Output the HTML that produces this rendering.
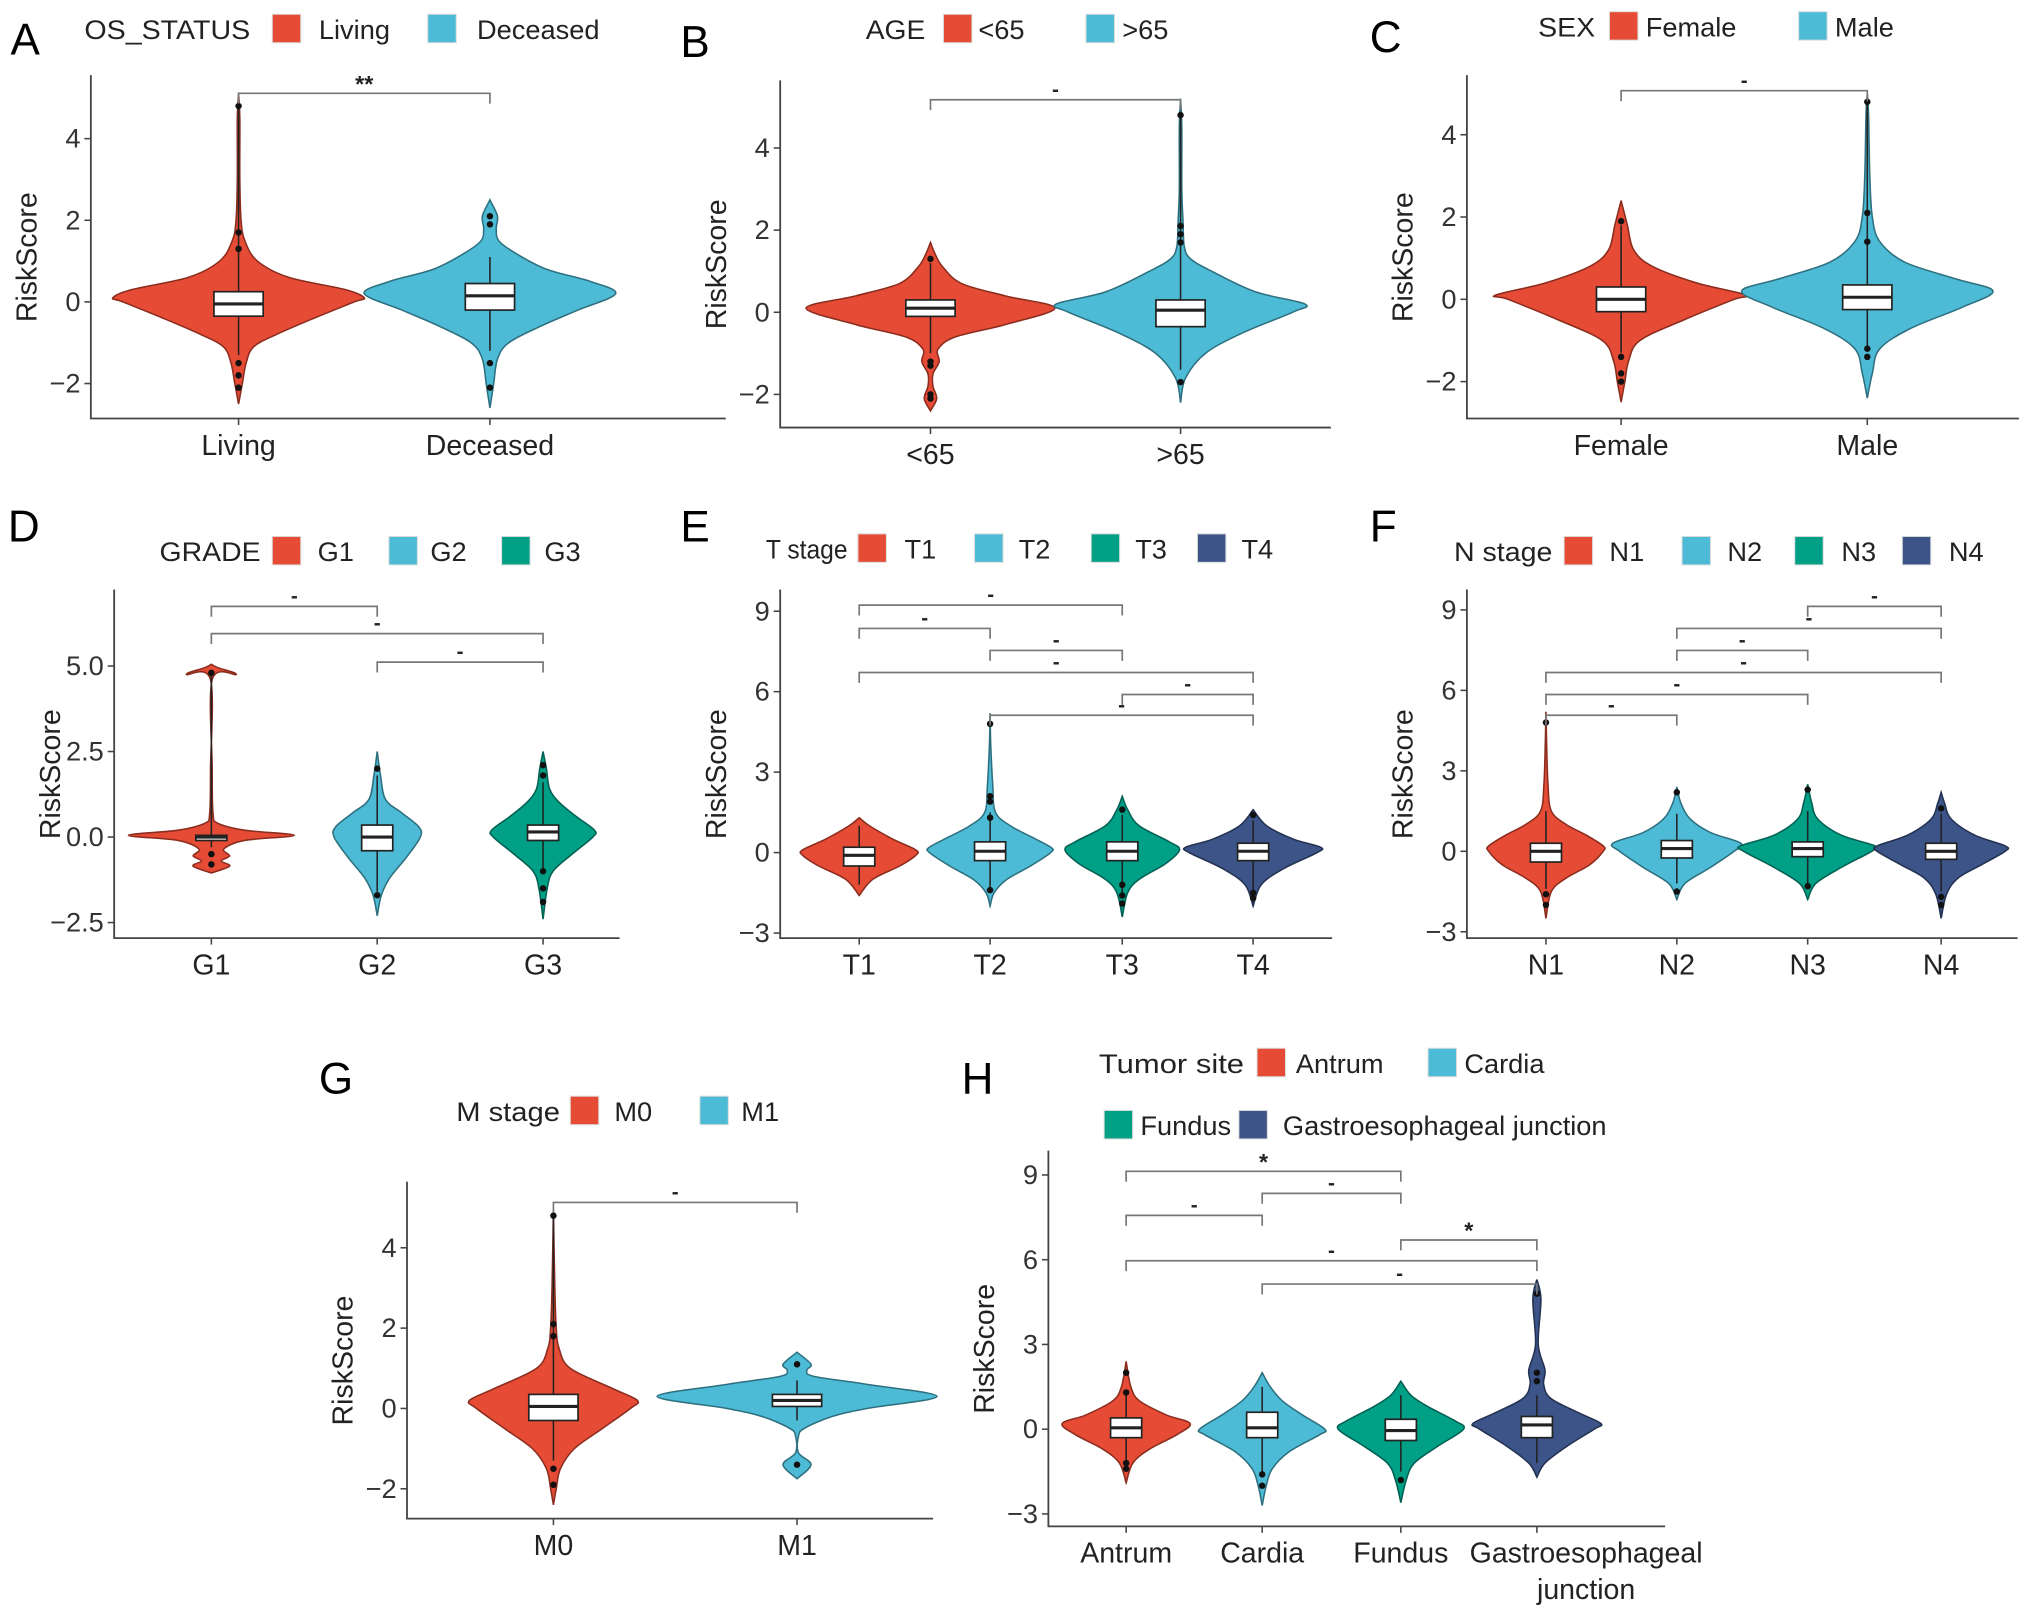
<!DOCTYPE html>
<html><head><meta charset="utf-8"><style>
html,body{margin:0;padding:0;background:#fff;}
svg{display:block;font-family:"Liberation Sans",sans-serif;}
</style></head><body>
<svg id="fig" width="2032" height="1608" viewBox="0 0 1568 1241" xmlns="http://www.w3.org/2000/svg"></svg>
<script>
// ---------- DATA ----------
const aCats=["Living","Deceased"];
const aMed=[-0.05,0.15];const aQ1=[-0.35,-0.2];const aQ3=[0.25,0.45];const aLo=[-1.3,-1.2];const aHi=[4.8,1.1];
const aOut=[[4.8,1.7,1.3,-1.5,-1.8,-2.1],[2.1,1.9,-1.5,-2.1]];
const aViol=[[[-2.5,0],[-2,0.03],[-1.5,0.06],[-1.1,0.12],[-0.8,0.3],[-0.4,0.6],[0,0.92],[0.1,1],[0.3,0.85],[0.6,0.4],[1,0.15],[1.5,0.05],[2,0.02],[3,0.01],[4.5,0.01],[5.1,0]],
[[-2.6,0],[-2,0.03],[-1.4,0.06],[-1,0.15],[-0.6,0.4],[-0.2,0.7],[0.2,1],[0.5,0.8],[0.8,0.45],[1.2,0.2],[1.5,0.07],[1.8,0.05],[2.1,0.06],[2.5,0]]];
const bCats=["<65",">65"];
const bMed=[0.1,0.05];const bQ1=[-0.1,-0.35];const bQ3=[0.3,0.3];const bLo=[-1,-1.4];const bHi=[1.2,4.8];
const bOut=[[1.3,-1.2,-1.3,-2,-2.1],[4.8,2.1,1.9,1.7,-1.7]];
const bViol=[[[-2.4,0],[-2.1,0.05],[-1.8,0.02],[-1.5,0.02],[-1.2,0.07],[-0.9,0.06],[-0.6,0.2],[-0.3,0.6],[0.1,1],[0.4,0.6],[0.7,0.25],[1.1,0.1],[1.4,0.04],[1.7,0]],
[[-2.2,0],[-1.6,0.04],[-1,0.2],[-0.5,0.5],[0,0.9],[0.2,1],[0.5,0.6],[1,0.25],[1.3,0.08],[1.6,0.03],[2.2,0.02],[3,0.01],[4.5,0.01],[5.2,0]]];
const cCats=["Female","Male"];
const cMed=[0,0.05];const cQ1=[-0.3,-0.25];const cQ3=[0.3,0.35];const cLo=[-1.3,-1.2];const cHi=[1.8,4.8];
const cOut=[[1.9,-1.4,-1.8,-2],[4.8,2.1,1.4,-1.2,-1.4]];
const cViol=[[[-2.5,0],[-2,0.03],[-1.5,0.06],[-1,0.15],[-0.5,0.5],[0,0.9],[0.1,1],[0.4,0.6],[0.8,0.25],[1.2,0.1],[1.8,0.05],[2.4,0]],
[[-2.4,0],[-1.8,0.04],[-1.2,0.1],[-0.7,0.35],[-0.2,0.75],[0.2,1],[0.5,0.7],[0.9,0.3],[1.4,0.1],[2,0.04],[3,0.02],[4.5,0.01],[5,0]]];
const dCats=["G1","G2","G3"];
const dMed=[0,0,0.15];const dQ1=[-0.1,-0.4,-0.1];const dQ3=[0.05,0.35,0.35];const dLo=[-0.3,-1.6,-1];const dHi=[4.8,1.8,1.6];
const dOut=[[4.8,-0.5,-0.8],[2,-1.7],[2.1,1.8,-1,-1.5,-1.9]];
const dViol=[[[-1.05,0],[-0.85,0.22],[-0.7,0.12],[-0.55,0.22],[-0.35,0.15],[-0.1,0.4],[0.05,1],[0.2,0.4],[0.4,0.08],[0.7,0.02],[2,0.01],[4.6,0.01],[4.75,0.3],[4.95,0.08],[5.05,0]],
[[-2.3,0],[-1.7,0.05],[-1.2,0.15],[-0.6,0.35],[0,0.52],[0.3,0.5],[0.7,0.3],[1.1,0.1],[1.8,0.04],[2.5,0]],
[[-2.4,0],[-1.5,0.05],[-1,0.12],[-0.5,0.35],[0,0.6],[0.2,0.62],[0.6,0.4],[1,0.2],[1.4,0.08],[2,0.04],[2.5,0]]];
const eCats=["T1","T2","T3","T4"];
const eMed=[-0.1,0.05,0.05,0.05];const eQ1=[-0.5,-0.3,-0.3,-0.3];const eQ3=[0.2,0.4,0.4,0.35];const eLo=[-1.2,-1.4,-1.6,-1.5];const eHi=[1,1.5,1.4,1.2];
const eOut=[[],[4.8,2.1,1.9,1.3,-1.4],[1.6,-1.2,-1.6,-1.9],[1.4,-1.5,-1.7]];
const eViol=[[[-1.6,0],[-1,0.2],[-0.5,0.6],[-0.1,0.84],[0.1,0.84],[0.5,0.5],[1,0.15],[1.3,0]],
[[-2,0],[-1.5,0.06],[-1,0.25],[-0.5,0.6],[0,0.9],[0.2,0.9],[0.6,0.6],[1,0.3],[1.5,0.08],[2.5,0.04],[4,0.01],[5.2,0]],
[[-2.4,0],[-1.5,0.08],[-1,0.25],[-0.4,0.65],[0.1,0.85],[0.4,0.7],[1,0.25],[1.6,0.08],[2.1,0]],
[[-2,0],[-1.2,0.12],[-0.6,0.45],[0,0.95],[0.2,1],[0.5,0.6],[1,0.2],[1.6,0]]];
const fCats=["N1","N2","N3","N4"];
const fMed=[0,0.1,0.1,0];const fQ1=[-0.4,-0.25,-0.2,-0.3];const fQ3=[0.3,0.4,0.35,0.3];const fLo=[-1.4,-1.2,-1.2,-1.5];const fHi=[1.5,1.4,1.5,1.4];
const fOut=[[4.8,-1.6,-2],[2.2,-1.5],[2.3,-1.3],[1.6,-1.7,-2]];
const fViol=[[[-2.5,0],[-1.5,0.08],[-1,0.3],[-0.5,0.65],[0,0.85],[0.2,0.85],[0.6,0.6],[1,0.3],[1.5,0.08],[2.5,0.03],[4,0.01],[5.2,0]],
[[-1.8,0],[-1.2,0.12],[-0.6,0.5],[0,0.85],[0.3,0.95],[0.7,0.5],[1.2,0.2],[1.8,0.06],[2.4,0]],
[[-1.8,0],[-1.2,0.12],[-0.6,0.5],[0,0.95],[0.2,1],[0.6,0.5],[1.2,0.15],[1.8,0.06],[2.5,0]],
[[-2.5,0],[-1.6,0.08],[-1,0.25],[-0.5,0.6],[0,0.95],[0.2,0.95],[0.6,0.5],[1.2,0.15],[1.8,0.05],[2.2,0]]];
const gCats=["M0","M1"];
const gMed=[0.05,0.2];const gQ1=[-0.3,0.05];const gQ3=[0.35,0.35];const gLo=[-1.3,-0.3];const gHi=[4.8,0.7];
const gOut=[[4.8,2.1,1.8,-1.5,-1.9],[1.1,-1.4]];
const gViol=[[[-2.4,0],[-2,0.02],[-1.5,0.05],[-1,0.15],[-0.5,0.35],[0,0.55],[0.2,0.6],[0.5,0.42],[1,0.12],[1.5,0.04],[2,0.02],[3,0.01],[4.9,0]],
[[-1.75,0],[-1.4,0.1],[-1.1,0.01],[-0.7,0.01],[-0.5,0.05],[-0.2,0.25],[0,0.5],[0.3,1],[0.6,0.5],[0.8,0.12],[0.95,0.07],[1.1,0.1],[1.4,0]]];
const hCats=["Antrum","Cardia","Fundus","Gastroesophageal|junction"];
const hMed=[0.05,0.05,-0.05,0.15];const hQ1=[-0.3,-0.3,-0.4,-0.3];const hQ3=[0.4,0.6,0.35,0.45];const hLo=[-1.2,-1.5,-1.5,-1.2];const hHi=[1.3,1.5,1.2,1.2];
const hOut=[[2,1.3,-1.2,-1.4],[-1.6,-2],[-1.8],[4.8,2,1.7]];
const hViol=[[[-1.9,0],[-1.2,0.1],[-0.7,0.35],[-0.2,0.75],[0.2,0.95],[0.5,0.6],[1,0.2],[1.5,0.07],[2.4,0]],
[[-2.7,0],[-2,0.06],[-1.4,0.15],[-0.8,0.4],[-0.2,0.85],[0,0.93],[0.5,0.6],[1,0.3],[1.5,0.12],[2,0]],
[[-2.6,0],[-1.8,0.08],[-1.2,0.2],[-0.6,0.55],[0,0.93],[0.3,0.8],[0.8,0.4],[1.2,0.15],[1.7,0]],
[[-1.7,0],[-1.2,0.12],[-0.6,0.45],[0,0.85],[0.2,0.95],[0.6,0.6],[1.1,0.2],[1.6,0.1],[2.1,0.12],[3,0.02],[4.6,0.06],[5.3,0]]];

// ---------- LAYOUT ----------
const RED="#E64B35",BLUE="#4DBBD5",GREEN="#00A087",NAVY="#3C5488";
const panels=[
 {id:"a",letter:"A",lx:8,ly:42,x0:70,x1:560,yb:323,yt:58,v0:0,py0:233,pyPer:31.5,ticks:[-2,0,2,4],tfmt:v=>v,cx:[184,378],cats:aCats,med:aMed,q1:aQ1,q3:aQ3,lo:aLo,hi:aHi,out:aOut,viol:aViol,vw:97,bw:19,cols:[RED,BLUE],
  legTitle:"OS_STATUS",legTW:128,legT:65,legY:22,leg:[[210,246],[330,368]],br:[[0,1,72,"**"]]},
 {id:"b",letter:"B",lx:525,ly:44,x0:602,x1:1027,yb:330,yt:62,v0:0,py0:241,pyPer:31.7,ticks:[-2,0,2,4],tfmt:v=>v,cx:[718,911],cats:bCats,med:bMed,q1:bQ1,q3:bQ3,lo:bLo,hi:bHi,out:bOut,viol:bViol,vw:96,bw:19,cols:[RED,BLUE],
  legTitle:"AGE",legTW:46,legT:668,legY:22,leg:[[728,755],[838,866]],br:[[0,1,77,"-"]]},
 {id:"c",letter:"C",lx:1057,ly:40,x0:1132,x1:1558,yb:323,yt:58,v0:0,py0:231,pyPer:31.75,ticks:[-2,0,2,4],tfmt:v=>v,cx:[1251,1441],cats:cCats,med:cMed,q1:cQ1,q3:cQ3,lo:cLo,hi:cHi,out:cOut,viol:cViol,vw:97,bw:19,cols:[RED,BLUE],
  legTitle:"SEX",legTW:44,legT:1187,legY:20,leg:[[1242,1270],[1388,1416]],br:[[0,1,70,"-"]]},
 {id:"d",letter:"D",lx:6,ly:418,x0:88,x1:478,yb:724,yt:455,v0:0,py0:646,pyPer:26.4,ticks:[-2.5,0,2.5,5],tfmt:v=>v.toFixed(1),cx:[163,291,419],cats:dCats,med:dMed,q1:dQ1,q3:dQ3,lo:dLo,hi:dHi,out:dOut,viol:dViol,vw:64,bw:12,cols:[RED,BLUE,GREEN],
  legTitle:"GRADE",legTW:78,legT:123,legY:425,leg:[[210,245],[300,332],[387,420]],br:[[0,1,468,"-"],[0,2,489,"-"],[1,2,511,"-"]]},
 {id:"e",letter:"E",lx:525,ly:418,x0:602,x1:1028,yb:724,yt:455,v0:0,py0:658,pyPer:20.7,ticks:[-3,0,3,6,9],tfmt:v=>v,cx:[663,764,866,967],cats:eCats,med:eMed,q1:eQ1,q3:eQ3,lo:eLo,hi:eHi,out:eOut,viol:eViol,vw:52,bw:12,cols:[RED,BLUE,GREEN,NAVY],
  legTitle:"T stage",legTW:63,legT:591,legY:423,leg:[[662,698],[752,786],[842,876],[924,958]],br:[[0,2,467,"-"],[0,1,485,"-"],[1,2,502,"-"],[0,3,519,"-"],[2,3,536,"-"],[1,3,552,"-"]]},
 {id:"f",letter:"F",lx:1057,ly:418,x0:1132,x1:1557,yb:724,yt:455,v0:0,py0:657,pyPer:20.7,ticks:[-3,0,3,6,9],tfmt:v=>v,cx:[1193,1294,1395,1498],cats:fCats,med:fMed,q1:fQ1,q3:fQ3,lo:fLo,hi:fHi,out:fOut,viol:fViol,vw:52,bw:12,cols:[RED,BLUE,GREEN,NAVY],
  legTitle:"N stage",legTW:76,legT:1122,legY:425,leg:[[1207,1242],[1298,1333],[1385,1421],[1468,1504]],br:[[2,3,468,"-"],[1,3,485,"-"],[1,2,502,"-"],[0,3,519,"-"],[0,2,536,"-"],[0,1,552,"-"]]},
 {id:"g",letter:"G",lx:246,ly:844,x0:314,x1:720,yb:1172,yt:912,v0:0,py0:1087,pyPer:31,ticks:[-2,0,2,4],tfmt:v=>v,cx:[427,615],cats:gCats,med:gMed,q1:gQ1,q3:gQ3,lo:gLo,hi:gHi,out:gOut,viol:gViol,vw:108,bw:19,cols:[RED,BLUE],
  legTitle:"M stage",legTW:80,legT:352,legY:857,leg:[[440,474],[540,572]],br:[[0,1,928,"-"]]},
 {id:"h",letter:"H",lx:742,ly:844,x0:809,x1:1285,yb:1178,yt:888,v0:0,py0:1103,pyPer:21.8,ticks:[-3,0,3,6,9],tfmt:v=>v,cx:[869,974,1081,1186],cats:hCats,med:hMed,q1:hQ1,q3:hQ3,lo:hLo,hi:hHi,out:hOut,viol:hViol,vw:52,bw:12,cols:[RED,BLUE,GREEN,NAVY],
  legTitle:"Tumor site",legTW:112,legT:848,legY:820,leg:[[970,1000],[1102,1130],[852,880,868],[956,990,868]],br:[[0,2,904,"*"],[1,2,921,"-"],[0,1,938,"-"],[2,3,957,"*"],[0,3,973,"-"],[1,3,991,"-"]]}
];
const NS="http://www.w3.org/2000/svg";
const svg=document.getElementById("fig");
function mk(tag,attrs,parent){const e=document.createElementNS(NS,tag);for(const k in attrs)e.setAttribute(k,attrs[k]);parent.appendChild(e);return e;}
function dark(c){const n=parseInt(c.slice(1),16);const r=(n>>16)*0.6|0,g=((n>>8)&255)*0.6|0,b=(n&255)*0.6|0;return `rgb(${r},${g},${b})`;}
function smooth(pts){let d=`M${pts[0][0]},${pts[0][1]}`;for(let i=0;i<pts.length-1;i++){const p0=pts[Math.max(0,i-1)],p1=pts[i],p2=pts[i+1],p3=pts[Math.min(pts.length-1,i+2)];
 d+=` C${p1[0]+(p2[0]-p0[0])/6},${p1[1]+(p2[1]-p0[1])/6} ${p2[0]-(p3[0]-p1[0])/6},${p2[1]-(p3[1]-p1[1])/6} ${p2[0]},${p2[1]}`;}return d;}
const bg=mk("rect",{x:0,y:0,width:1568,height:1241,fill:"#fff"},svg);



panels.forEach(P=>{
 const g=mk("g",{},svg);
 
 
 const Y=v=>P.py0-(v-P.v0)*P.pyPer;
 const lt=mk("text",{x:P.lx,y:P.ly,"font-size":34,fill:"#000"},g);lt.textContent=P.letter;
 
 
 const lgt=mk("text",{x:P.legT,y:P.legY+8,"font-size":21,fill:"#222",textLength:P.legTW,lengthAdjust:"spacingAndGlyphs"},g);lgt.textContent=P.legTitle;
 
 
 P.leg.forEach((L,i)=>{const ly=L[2]||P.legY;
  const sw=mk("rect",{x:L[0],y:ly-11,width:22,height:22,fill:P.cols[i],stroke:"#ddd","stroke-width":0.8},g);
  
  
  const tx=mk("text",{x:L[1],y:ly+8,"font-size":21,fill:"#222"},g);tx.textContent=P.cats[i].replace("|"," ");
  
  });
 const ax=mk("path",{d:`M${P.x0},${P.yt} L${P.x0},${P.yb} L${P.x1},${P.yb}`,fill:"none",stroke:"#444","stroke-width":1.4},g);
 
 
 P.ticks.forEach(t=>{const y=Y(t);
  const tk=mk("line",{x1:P.x0-5,x2:P.x0,y1:y,y2:y,stroke:"#444","stroke-width":1.2},g);
  
  
  const tl=mk("text",{x:P.x0-8,y:y+7,"font-size":21,"text-anchor":"end",fill:"#333"},g);tl.textContent=String(P.tfmt(t)).replace("-","\u2212");
  
  });
 const yt=mk("text",{x:0,y:0,"font-size":22,"text-anchor":"middle",fill:"#222",transform:`translate(${P.x0-42},${(P.yt+P.yb)/2+8}) rotate(-90)`},g);yt.textContent="RiskScore";
 
 
 P.cats.forEach((c,i)=>{const x=P.cx[i];
  const tk=mk("line",{x1:x,x2:x,y1:P.yb,y2:P.yb+5,stroke:"#444","stroke-width":1.2},g);
  
  
  const parts=c.split("|");
  const off=parts.length>1?38:0;
  parts.forEach((p,j)=>{const tl=mk("text",{x:x+off,y:P.yb+28+j*28,"font-size":22,"text-anchor":"middle",fill:"#222"},g);tl.textContent=p;
   
   });
  const k=P.viol[i];
  const right=k.map(q=>[x+q[1]*P.vw,Y(q[0])]);
  const left=k.slice().reverse().map(q=>[x-q[1]*P.vw,Y(q[0])]);
  const d=smooth(right)+" "+smooth(left).replace(/^M/,"L")+" Z";
  const vp=mk("path",{d:d,fill:P.cols[i],stroke:dark(P.cols[i]),"stroke-width":1.2},g);
  
  
  const wl=mk("line",{x1:x,x2:x,y1:Y(P.lo[i]),y2:Y(P.hi[i]),stroke:"#222","stroke-width":1.2},g);
  
  
  const bx=mk("rect",{x:x-P.bw,y:Y(P.q3[i]),width:2*P.bw,height:Y(P.q1[i])-Y(P.q3[i]),fill:"#fff",stroke:"#222","stroke-width":1.3},g);
  
  
  const md=mk("line",{x1:x-P.bw,x2:x+P.bw,y1:Y(P.med[i]),y2:Y(P.med[i]),stroke:"#222","stroke-width":2.4},g);
  
  
  P.out[i].forEach(o=>{const ci=mk("circle",{cx:x,cy:Y(o),r:2.5,fill:"#111"},g);
   
   });
 });
 P.br.forEach(b=>{const xa=P.cx[b[0]],xb=P.cx[b[1]],y=b[2];
  const bl=mk("path",{d:`M${xa},${y+8} L${xa},${y} L${xb},${y} L${xb},${y+8}`,fill:"none",stroke:"#777","stroke-width":1.3},g);
  
  
  const st=mk("text",{x:(xa+xb)/2,y:b[3]==="-"?y-3:y-1,"font-size":b[3]==="-"?16:18,"font-weight":"bold","text-anchor":"middle",fill:"#222"},g);st.textContent=b[3];
  
  });
});
</script>
</body></html>
